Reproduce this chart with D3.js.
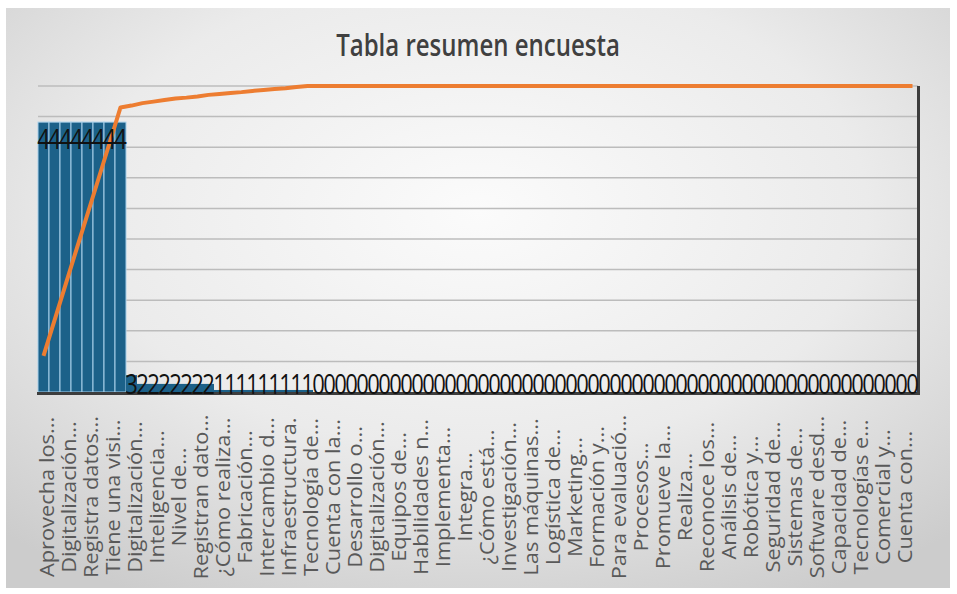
<!DOCTYPE html>
<html>
<head>
<meta charset="utf-8">
<script src="https://cdn.jsdelivr.net/npm/d3@7"></script>
<style>
  body { margin: 0; background: #fff; }
  svg { display: block; }
</style>
</head>
<body>
<svg id="chart"></svg>
<script>
const width = 957;
const height = 594;

// Valores (etiquetas de datos) por categoría
const valores = [4, 4, 4, 4, 4, 4, 4, 4, 3, 2, 2, 2, 2, 2, 2, 2, 1, 1, 1, 1,
  1, 1, 1, 1, 1, 0, 0, 0, 0, 0, 0, 0, 0, 0, 0, 0, 0, 0, 0, 0,
  0, 0, 0, 0, 0, 0, 0, 0, 0, 0, 0, 0, 0, 0, 0, 0, 0, 0, 0, 0,
  0, 0, 0, 0, 0, 0, 0, 0, 0, 0, 0, 0, 0, 0, 0, 0, 0, 0, 0, 0];

// Altura visible de las barras
const alturaBarra = [4, 4, 4, 4, 4, 4, 4, 4, 0.25, 0.12, 0.12, 0.12, 0.12, 0.12, 0.12, 0.12, 0.03, 0.03, 0.03, 0.03,
  0.03, 0.03, 0.03, 0.03, 0.03, 0, 0, 0, 0, 0, 0, 0, 0, 0, 0, 0, 0, 0, 0, 0,
  0, 0, 0, 0, 0, 0, 0, 0, 0, 0, 0, 0, 0, 0, 0, 0, 0, 0, 0, 0,
  0, 0, 0, 0, 0, 0, 0, 0, 0, 0, 0, 0, 0, 0, 0, 0, 0, 0, 0, 0];

// % acumulado (línea naranja)
const acumulado = [11.8, 23.4, 35.0, 46.6, 58.1, 69.7, 81.3, 93.0, 93.6, 94.4,
  94.9, 95.4, 95.9, 96.2, 96.6, 97.1, 97.4, 97.7, 98.0, 98.4,
  98.7, 99.0, 99.3, 99.7, 100, 100, 100, 100, 100, 100,
  100, 100, 100, 100, 100, 100, 100, 100, 100, 100,
  100, 100, 100, 100, 100, 100, 100, 100, 100, 100,
  100, 100, 100, 100, 100, 100, 100, 100, 100, 100,
  100, 100, 100, 100, 100, 100, 100, 100, 100, 100,
  100, 100, 100, 100, 100, 100, 100, 100, 100, 100];

// Etiquetas del eje (una de cada dos categorías)
const etiquetas = ["Aprovecha los...", "Digitalización...", "Registra datos...", "Tiene una visi...",
  "Digitalización...", "Inteligencia...", "Nivel de...", "Registran dato...", "¿Cómo realiza...",
  "Fabricación...", "Intercambio d...", "Infraestructura.", "Tecnología de...", "Cuenta con la...",
  "Desarrollo o...", "Digitalización...", "Equipos de...", "Habilidades n...", "Implementa...",
  "Integra...", "¿Cómo está...", "Investigación...", "Las máquinas...", "Logística de...",
  "Marketing...", "Formación y...", "Para evaluació...", "Procesos...", "Promueve la...",
  "Realiza...", "Reconoce los...", "Análisis de...", "Robótica y...", "Seguridad de...",
  "Sistemas de...", "Software desd...", "Capacidad de...", "Tecnologías e...", "Comercial y...",
  "Cuenta con..."];

const STRETCH = 1.25; // el texto de la imagen está estirado en vertical
const font = "'Open Sans', sans-serif";

const svg = d3.select("#chart")
    .attr("width", width)
    .attr("height", height);

const defs = svg.append("defs");
const grad = defs.append("radialGradient")
    .attr("id", "fondo")
    .attr("cx", "50%").attr("cy", "35%").attr("r", "75%");
grad.append("stop").attr("offset", "0%").attr("stop-color", "#fbfbfb");
grad.append("stop").attr("offset", "55%").attr("stop-color", "#ebebeb");
grad.append("stop").attr("offset", "100%").attr("stop-color", "#cccccc");

svg.append("rect")
    .attr("x", 6).attr("y", 8)
    .attr("width", 944).attr("height", 580)
    .attr("fill", "url(#fondo)");

// Scales
const x = d3.scaleBand()
    .domain(d3.range(valores.length))
    .range([38, 918])
    .padding(0);

const y = d3.scaleLinear()
    .domain([0, 4.55])
    .range([392, 85]);

const y2 = d3.scaleLinear()
    .domain([0, 100])
    .range([392, 86]);

// Gridlines
svg.append("g")
    .selectAll("line")
    .data(d3.range(10, 101, 10))
    .enter().append("line")
    .attr("x1", 38).attr("x2", 918)
    .attr("y1", d => y2(d)).attr("y2", d => y2(d))
    .attr("stroke", "#bcbcbc")
    .attr("stroke-width", 1.5);

// Bars
svg.append("g")
    .selectAll("rect")
    .data(alturaBarra)
    .enter().append("rect")
    .attr("x", (d, i) => x(i))
    .attr("y", d => y(d))
    .attr("width", x.bandwidth())
    .attr("height", d => y(0) - y(d))
    .attr("fill", "#1c6189")
    .attr("stroke", d => d > 0.5 ? "#a8d0ea" : "none")
    .attr("stroke-width", 1);

// Axis lines (bottom and right)
svg.append("line")
    .attr("x1", 37).attr("x2", 919.5)
    .attr("y1", 393.5).attr("y2", 393.5)
    .attr("stroke", "#3d3d3d").attr("stroke-width", 3);
svg.append("line")
    .attr("x1", 918.5).attr("x2", 918.5)
    .attr("y1", 86).attr("y2", 395)
    .attr("stroke", "#3d3d3d").attr("stroke-width", 3);

// Cumulative line
const line = d3.line()
    .x((d, i) => x(i) + x.bandwidth() / 2)
    .y(d => y2(d));

svg.append("path")
    .datum(acumulado)
    .attr("d", line)
    .attr("fill", "none")
    .attr("stroke", "#ed7d31")
    .attr("stroke-width", 4)
    .attr("stroke-linejoin", "round");

// Data labels
svg.append("g")
    .selectAll("text")
    .data(valores)
    .enter().append("text")
    .attr("transform", (d, i) => {
        const cy = Math.min(y(alturaBarra[i]) + 17.5, 384);
        return `translate(${x(i) + x.bandwidth() / 2},${cy}) scale(1,${STRETCH})`;
    })
    .attr("dy", "0.35em")
    .attr("text-anchor", "middle")
    .style("font-family", font)
    .style("font-size", "22px")
    .attr("fill", "#111")
    .text(d => d);

// X axis labels
const xAxis = d3.axisBottom(x)
    .tickValues(d3.range(0, valores.length, 2))
    .tickSize(0)
    .tickFormat(i => etiquetas[i / 2]);

const gx = svg.append("g")
    .attr("transform", "translate(0,392)")
    .call(xAxis);
gx.select(".domain").remove();
gx.selectAll("text")
    .attr("transform", `translate(4,105) rotate(-90) scale(1.12,1)`)
    .attr("x", 0).attr("y", 0)
    .attr("dy", "0.35em")
    .attr("text-anchor", "middle")
    .style("font-family", font)
    .style("font-size", "19.5px")
    .attr("fill", "#595959");

// Title
svg.append("text")
    .attr("transform", `translate(478,45) scale(1,${STRETCH})`)
    .attr("dy", "0.35em")
    .attr("text-anchor", "middle")
    .style("font-family", font)
    .style("font-weight", 600)
    .style("font-size", "24px")
    .attr("fill", "#404040")
    .text("Tabla resumen encuesta");
</script>
</body>
</html>
